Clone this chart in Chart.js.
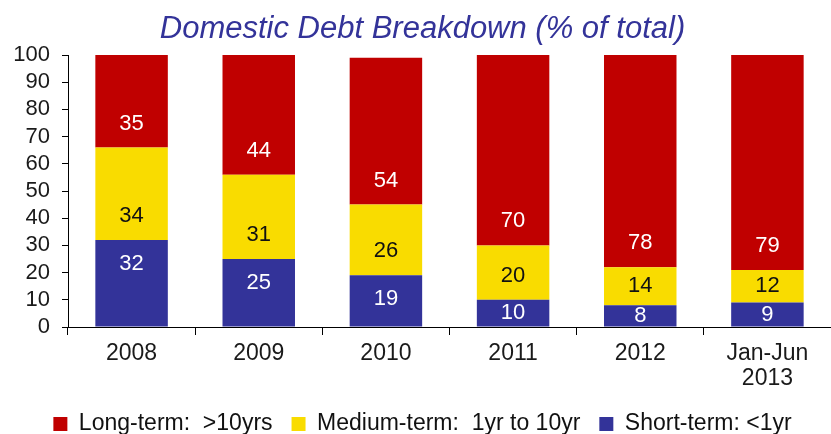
<!DOCTYPE html>
<html>
<head>
<meta charset="utf-8">
<title>Domestic Debt Breakdown</title>
<script src="https://cdn.jsdelivr.net/npm/chart.js@4.4.0/dist/chart.umd.min.js"></script>
<style>
  html, body { margin: 0; padding: 0; background: #fff; }
  #wrap { width: 831px; height: 434px; }
</style>
</head>
<body>
<div id="wrap"><canvas id="debt"></canvas></div>
<script>
// share of domestic debt by maturity, % of total
const periods    = ['2008', '2009', '2010', '2011', '2012', ['Jan-Jun', '2013']];
const shortTerm  = [32, 25, 19, 10, 8, 9];
const mediumTerm = [34, 31, 26, 20, 14, 12];
const longTerm   = [35, 44, 54, 70, 78, 79];

const FONT = '"Liberation Sans", Arial, sans-serif';

// value written inside each stacked segment:
// 'base' labels sit just above the segment bottom, 'top' labels just under its top,
// falling back to the middle when the segment is too thin
const segmentLabels = {
  id: 'segmentLabels',
  afterDatasetsDraw(chart) {
    const ctx = chart.ctx;
    ctx.save();
    ctx.font = '22px ' + FONT;
    ctx.textAlign = 'center';
    ctx.textBaseline = 'middle';
    chart.data.datasets.forEach((ds, i) => {
      chart.getDatasetMeta(i).data.forEach((bar, j) => {
        const mid = (bar.y + bar.base) / 2;
        const y = ds.labelAnchor === 'top'
          ? Math.min(mid, bar.y + 24)
          : Math.max(mid, bar.base - 24);
        ctx.fillStyle = ds.labelColor;
        ctx.fillText(ds.data[j], bar.x, y);
      });
    });
    ctx.restore();
  }
};

new Chart(document.getElementById('debt'), {
  type: 'bar',
  data: {
    labels: periods,
    datasets: [
      { label: 'Short-term: <1yr', data: shortTerm, backgroundColor: '#333399',
        labelColor: '#ffffff', labelAnchor: 'top' },
      { label: 'Medium-term:  1yr to 10yr', data: mediumTerm, backgroundColor: '#f9dc00',
        labelColor: '#111111', labelAnchor: 'base' },
      { label: 'Long-term:  >10yrs', data: longTerm, backgroundColor: '#c00000',
        labelColor: '#ffffff', labelAnchor: 'base' }
    ]
  },
  options: {
    responsive: true,
    maintainAspectRatio: false,
    animation: false,
    layout: { padding: { left: 14, right: 0, top: 0, bottom: -11.5 } },
    datasets: { bar: { barPercentage: 0.57, categoryPercentage: 1 } },
    plugins: {
      title: {
        display: true,
        text: 'Domestic Debt Breakdown (% of total)',
        color: '#333399',
        font: { family: FONT, size: 31, style: 'italic', weight: 'normal', lineHeight: 1.2 },
        padding: { top: 10.5, bottom: 7.3 }
      },
      legend: {
        position: 'bottom',
        reverse: true,
        labels: {
          color: '#111111',
          boxWidth: 14,
          boxHeight: 14,
          padding: 19,
          font: { family: FONT, size: 23 }
        }
      },
      tooltip: { enabled: false }
    },
    scales: {
      x: {
        stacked: true,
        grid: { drawOnChartArea: false, drawTicks: true, tickLength: 8, color: '#000' },
        border: { color: '#000', width: 1 },
        ticks: { color: '#1a1a1a', padding: 6, font: { family: FONT, size: 23, lineHeight: 1.1 } },
        afterFit(scale) { scale.height = 66.5; }
      },
      y: {
        stacked: true,
        min: 0,
        max: 100,
        ticks: { stepSize: 10, autoSkip: false, color: '#1a1a1a', padding: 12, font: { family: FONT, size: 22 } },
        grid: { drawOnChartArea: false, drawTicks: true, tickLength: 6, color: '#000' },
        border: { color: '#000', width: 1 },
        afterFit(scale) { scale.width = 54; }
      }
    }
  },
  plugins: [segmentLabels]
});
</script>
</body>
</html>
